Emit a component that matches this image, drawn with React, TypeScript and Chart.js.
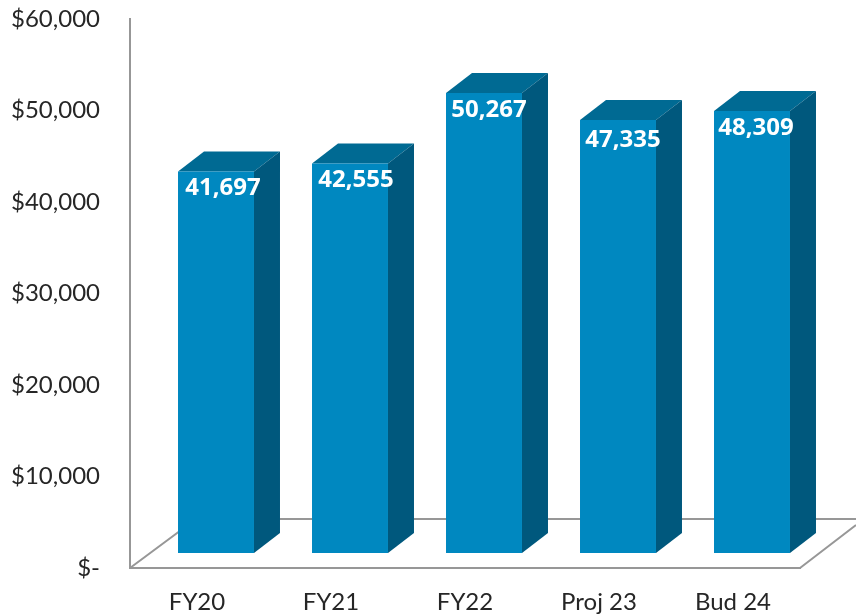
import React, { useEffect, useRef } from "react";
import { Chart, registerables } from "chart.js";

Chart.register(...registerables);

const categories = ["FY20", "FY21", "FY22", "Proj 23", "Bud 24"];
const amounts = [41697, 42555, 50267, 47335, 48309];
const axisMax = 60000;
const axisStep = 10000;

const FRONT = "#0088C0";
const TOP = "#006A93";
const SIDE = "#00587D";
const AXIS = "#979797";
const DEPTH_X = 26;
const DEPTH_Y = 20;
const SHIFT_X = 19;
const SHIFT_Y = 15;
const LABEL_DX = [7, 6, 5, 5, 4];
const LABEL_DY = [17, 17, 17, 20, 17];

const money = (v: number) => (v === 0 ? "$-" : "$" + v.toLocaleString("en-US"));

const box3d = {
  id: "box3d",
  beforeDatasetsDraw(chart: any) {
    const { ctx, chartArea: a, width } = chart;
    const floorBack = a.bottom - 49;
    ctx.save();
    ctx.strokeStyle = AXIS;
    ctx.lineWidth = 2;
    ctx.beginPath();
    ctx.moveTo(a.left, a.bottom);
    ctx.lineTo(a.left + 66, floorBack);
    ctx.lineTo(width, floorBack);
    ctx.moveTo(a.right, a.bottom);
    ctx.lineTo(width, a.bottom - 43);
    ctx.stroke();
    ctx.restore();

    ctx.save();
    ctx.translate(SHIFT_X, -SHIFT_Y);
    chart.getDatasetMeta(0).data.forEach((bar: any) => {
      const l = bar.x - bar.width / 2;
      const r = bar.x + bar.width / 2;
      ctx.fillStyle = TOP;
      ctx.beginPath();
      ctx.moveTo(l, bar.y);
      ctx.lineTo(l + DEPTH_X, bar.y - DEPTH_Y);
      ctx.lineTo(r + DEPTH_X, bar.y - DEPTH_Y);
      ctx.lineTo(r, bar.y);
      ctx.closePath();
      ctx.fill();
      ctx.fillStyle = SIDE;
      ctx.beginPath();
      ctx.moveTo(r, bar.y);
      ctx.lineTo(r + DEPTH_X, bar.y - DEPTH_Y);
      ctx.lineTo(r + DEPTH_X, bar.base - DEPTH_Y);
      ctx.lineTo(r, bar.base);
      ctx.closePath();
      ctx.fill();
    });
  },
  afterDatasetsDraw(chart: any) {
    const { ctx } = chart;
    ctx.restore();
    ctx.save();
    ctx.fillStyle = "#FFFFFF";
    ctx.font = "bold 24px 'Open Sans'";
    ctx.textAlign = "center";
    ctx.textBaseline = "middle";
    chart.getDatasetMeta(0).data.forEach((bar: any, i: number) => {
      ctx.fillText(
        amounts[i].toLocaleString("en-US"),
        bar.x + SHIFT_X + LABEL_DX[i],
        bar.y - SHIFT_Y + LABEL_DY[i]
      );
    });
    ctx.restore();
  },
};

export default function App() {
  const ref = useRef<HTMLCanvasElement>(null);
  useEffect(() => {
    document.body.style.margin = "0";
    const chart = new Chart(ref.current!, {
      type: "bar",
      data: {
        labels: categories,
        datasets: [
          {
            data: amounts,
            backgroundColor: FRONT,
            borderWidth: 0,
            barPercentage: 0.567,
            categoryPercentage: 1,
            clip: false,
          } as any,
        ],
      },
      options: {
        animation: false,
        responsive: false,
        layout: { padding: { top: 19, right: 56, left: 0, bottom: 0 } },
        plugins: { legend: { display: false }, tooltip: { enabled: false } },
        scales: {
          x: {
            grid: { display: false, drawTicks: false },
            border: { color: AXIS, width: 2 },
            ticks: {
              color: "#262626",
              font: { family: "Lato", size: 24 },
              padding: 20,
              maxRotation: 0,
            },
            afterFit: (s: any) => {
              s.height = 48;
              s.paddingLeft = 0;
              s.paddingRight = 0;
            },
          },
          y: {
            min: 0,
            max: axisMax,
            grid: { display: false, drawTicks: false },
            border: { color: AXIS, width: 2 },
            ticks: {
              stepSize: axisStep,
              color: "#262626",
              font: { family: "Lato", size: 24 },
              padding: 30,
              callback: (v: any) => money(Number(v)),
            },
            afterFit: (s: any) => {
              s.width = 130;
              s.paddingTop = 0;
              s.paddingBottom = 0;
            },
          },
        },
      },
      plugins: [box3d],
    });
    return () => chart.destroy();
  }, []);
  return <canvas ref={ref} width={856} height={616} style={{ display: "block" }} />;
}
